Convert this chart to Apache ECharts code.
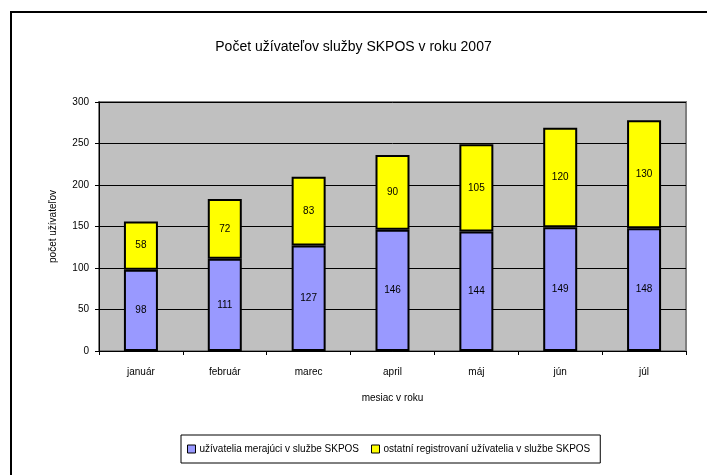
<!DOCTYPE html>
<html>
<head>
<meta charset="utf-8">
<script src="https://cdn.jsdelivr.net/npm/echarts@6/dist/echarts.min.js"></script>
<style>
    html, body { margin: 0; padding: 0; background: #fff; }
    .frame { position: absolute; left: 10px; top: 11px; width: 720px; height: 500px;
             border-top: 2px solid #000; border-left: 2px solid #000; }
    #chart { position: absolute; left: 0; top: 0; width: 707px; height: 475px; }
</style>
</head>
<body>
<div class="frame"></div>
<div id="chart"></div>
<script>
    const months = ['január', 'február', 'marec', 'april', 'máj', 'jún', 'júl'];
    const measuring = [98, 111, 127, 146, 144, 149, 148];
    const others = [58, 72, 83, 90, 105, 120, 130];
    const seriesNames = ['užívatelia merajúci v službe SKPOS', 'ostatní registrovaní užívatelia v službe SKPOS'];

    const font = 'Liberation Sans, Arial, sans-serif';
    const chart = echarts.init(document.getElementById('chart'));

    // spoločný štýl stĺpcov
    const barSeries = (name, data, color) => ({
        name: name,
        type: 'bar',
        stack: 'total',
        data: data,
        barWidth: 34,
        itemStyle: { color: color, borderColor: '#000', borderWidth: 2 },
        label: { show: true, position: 'inside', color: '#000', fontSize: 10, fontFamily: font }
    });

    chart.setOption({
        animation: false,
        textStyle: { fontFamily: font },
        title: {
            text: 'Počet užívateľov služby SKPOS v roku 2007',
            left: 'center',
            top: 35,
            textStyle: { fontSize: 14, fontWeight: 'normal', color: '#000', fontFamily: font }
        },
        legend: {
            left: 181,
            top: 435,
            width: 420,
            padding: [9, 10, 9, 6],
            itemGap: 12,
            itemWidth: 8,
            itemHeight: 8,
            icon: 'rect',
            borderColor: '#000',
            borderWidth: 1,
            backgroundColor: '#fff',
            itemStyle: { borderColor: '#000', borderWidth: 1 },
            textStyle: { fontSize: 10, color: '#000', fontFamily: font, padding: [0, 0, 0, -1] },
            data: seriesNames
        },
        grid: {
            left: 99, top: 102, right: 21, bottom: 124,
            show: true,
            backgroundColor: '#c0c0c0',
            borderColor: '#808080',
            borderWidth: 2
        },
        xAxis: {
            type: 'category',
            data: months,
            name: 'mesiac v roku',
            nameLocation: 'middle',
            nameGap: 42,
            nameTextStyle: { fontSize: 10, color: '#000' },
            axisLine: { lineStyle: { color: '#000', width: 1 } },
            axisTick: { show: true, length: 4, lineStyle: { color: '#000' } },
            axisLabel: { fontSize: 10, color: '#000', margin: 16 }
        },
        yAxis: {
            type: 'value',
            min: 0,
            max: 300,
            interval: 50,
            name: 'počet užívateľov',
            nameLocation: 'middle',
            nameGap: 41,
            nameTextStyle: { fontSize: 10, color: '#000' },
            axisLine: { show: true, lineStyle: { color: '#000', width: 1 } },
            axisTick: { show: true, length: 4, lineStyle: { color: '#000' } },
            axisLabel: { fontSize: 10, color: '#000', margin: 10 },
            splitLine: { lineStyle: { color: '#000', width: 1 } }
        },
        series: [
            barSeries(seriesNames[0], measuring, '#9999ff'),
            barSeries(seriesNames[1], others, '#ffff00')
        ]
    });
</script>
</body>
</html>
